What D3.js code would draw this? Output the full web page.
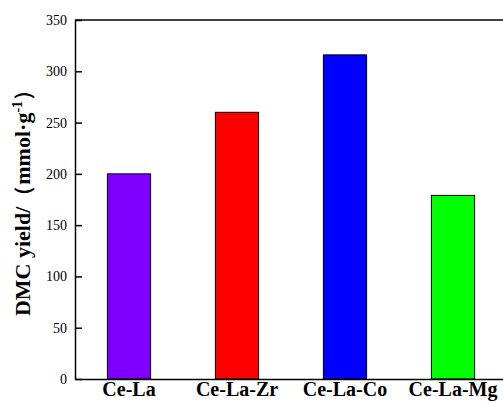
<!DOCTYPE html>
<html>
<head>
<meta charset="utf-8">
<script src="https://cdn.jsdelivr.net/npm/d3@7"></script>
<style>
  body { margin: 0; background: #fff; }
  svg text { font-family: "Liberation Serif", "Times New Roman", serif; }
</style>
</head>
<body>
<div id="chart"></div>
<script>
const categories = ["Ce-La", "Ce-La-Zr", "Ce-La-Co", "Ce-La-Mg"];
const yields = [200, 260, 316, 179];
const barColors = ["#7f00ff", "#ff0000", "#0000ff", "#00ff00"];
const yTicks = [0, 50, 100, 150, 200, 250, 300, 350];

const W = 503, H = 403;
const margin = { top: 20, right: -4, bottom: 24, left: 75 };
const width = W - margin.left - margin.right,
      height = H - margin.top - margin.bottom;

const svg = d3.select("#chart").append("svg")
    .attr("width", W)
    .attr("height", H);

const g = svg.append("g")
    .attr("transform", `translate(${margin.left},${margin.top})`);

const x = d3.scaleBand().domain(categories).range([0, width]).paddingInner(0.6).paddingOuter(0.3);
const y = d3.scaleLinear().domain([0, 350]).range([height, 0]);

// bars
g.selectAll(".bar")
    .data(categories)
    .enter().append("rect")
    .attr("class", "bar")
    .attr("x", d => x(d))
    .attr("width", x.bandwidth())
    .attr("y", (d, i) => y(yields[i]))
    .attr("height", (d, i) => height - y(yields[i]))
    .attr("fill", (d, i) => barColors[i])
    .attr("stroke", "#000")
    .attr("stroke-width", 1);

// top frame line
g.append("line")
    .attr("x1", 0).attr("x2", width)
    .attr("y1", 0).attr("y2", 0)
    .attr("stroke", "#000").attr("stroke-width", 1.5);

// y axis, ticks pointing inward
const yAxis = g.append("g")
    .call(d3.axisLeft(y).tickValues(yTicks).tickSizeInner(-7).tickSizeOuter(0).tickPadding(8));
yAxis.select(".domain").attr("stroke-width", 1.5);
yAxis.selectAll(".tick line").attr("stroke-width", 1.5);
yAxis.selectAll("text").attr("font-size", 14).attr("fill", "#000");

// x axis
const xAxis = g.append("g")
    .attr("transform", `translate(0,${height})`)
    .call(d3.axisBottom(x).tickSize(0).tickPadding(3));
xAxis.select(".domain").attr("stroke-width", 1.5);
xAxis.selectAll("text")
    .attr("font-size", 20)
    .attr("font-weight", "bold")
    .attr("fill", "#000");

// y label
const yl = svg.append("text")
    .attr("transform", `translate(30,${margin.top + height / 2 - 2}) rotate(-90)`)
    .attr("text-anchor", "middle")
    .attr("font-size", 22)
    .attr("font-weight", "bold");
yl.append("tspan").text("DMC yield/（mmol·g");
yl.append("tspan").attr("dy", -8).attr("font-size", 14).text("-1");
yl.append("tspan").attr("dy", 8).text("）");
</script>
</body>
</html>
